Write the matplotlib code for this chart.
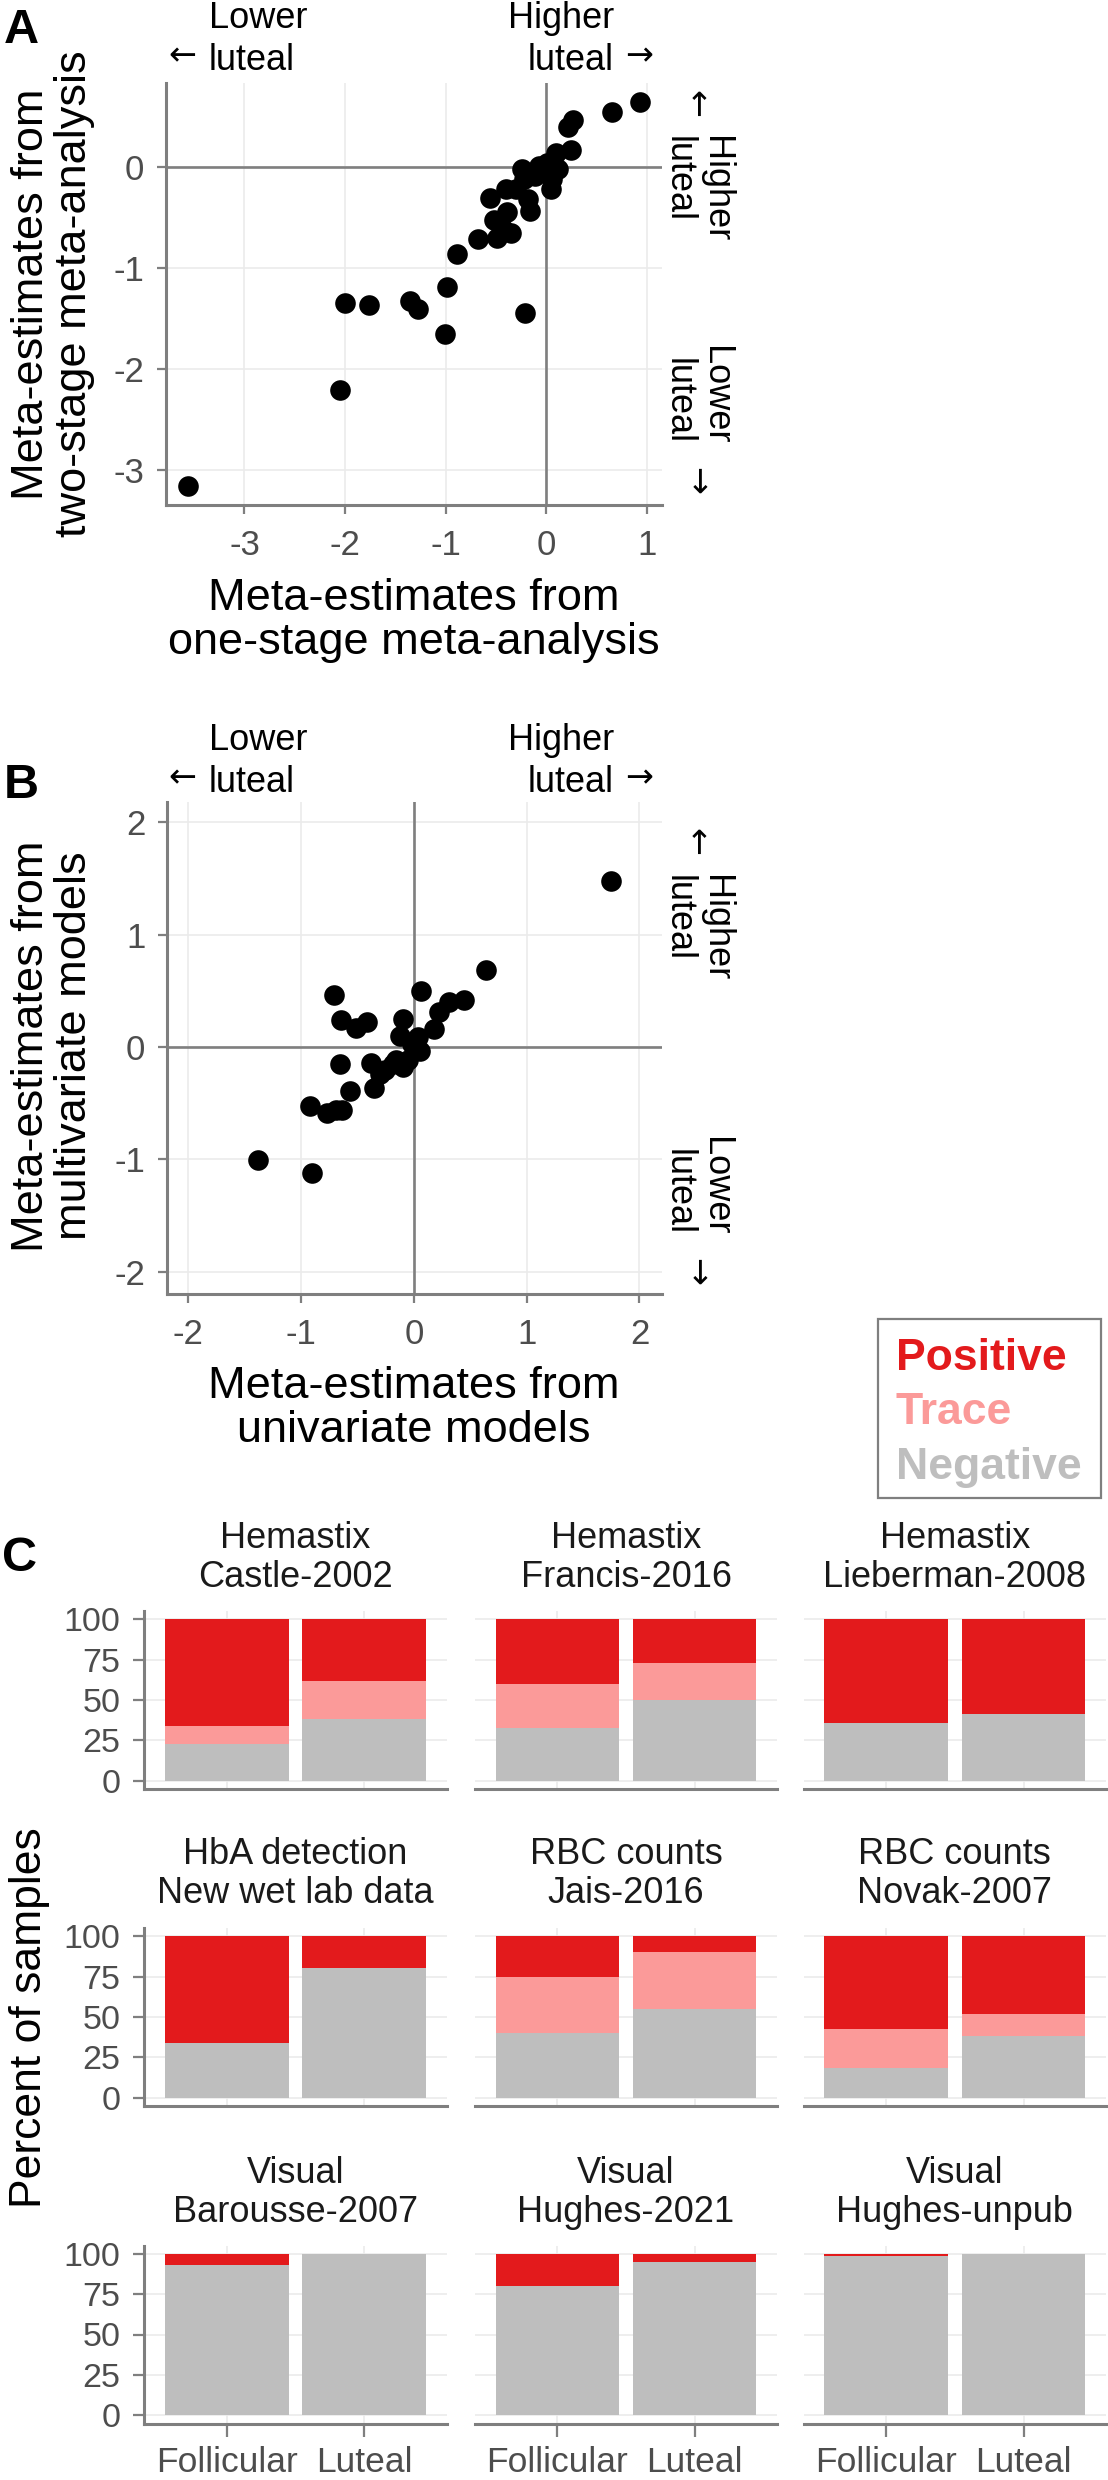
import numpy as np
import matplotlib
matplotlib.use("Agg")
import matplotlib.pyplot as plt
from matplotlib.patches import Rectangle

plt.rcParams["font.family"] = ["Liberation Sans", "DejaVu Sans"]

# --------------------------------------------------
# Data
# --------------------------------------------------
# Panel A: one-stage vs two-stage meta-estimates
a_one_stage = [-3.56, -2.05, -2.00, -1.76, -1.35, -1.28, -0.99, -1.01, -0.21,
               -0.89, -0.68, -0.56, -0.52, -0.49, -0.43, -0.35, -0.40, -0.39,
               -0.30, -0.24, -0.22, -0.18, -0.16, -0.11, -0.07, 0.01, 0.05,
               0.06, 0.10, 0.12, 0.25, 0.22, 0.27, 0.65, 0.93]
a_two_stage = [-3.16, -2.21, -1.35, -1.37, -1.33, -1.41, -1.19, -1.66, -1.45,
               -0.86, -0.72, -0.31, -0.53, -0.71, -0.62, -0.66, -0.22, -0.45,
               -0.22, -0.02, -0.12, -0.32, -0.44, -0.09, 0.01, 0.04, -0.22,
               -0.12, 0.14, -0.02, 0.17, 0.39, 0.46, 0.54, 0.64]

# Panel B: univariate vs multivariate meta-estimates
b_univariate = [-1.38, -0.90, -0.92, -0.77, -0.69, -0.64, -0.57, -0.66, -0.71,
                -0.65, -0.51, -0.42, -0.38, -0.35, -0.30, -0.26, -0.19, -0.16,
                -0.10, -0.05, -0.12, -0.10, -0.02, 0.04, 0.05, 0.06, 0.18,
                0.22, 0.31, 0.44, 0.64, 1.75]
b_multivariate = [-1.01, -1.12, -0.53, -0.59, -0.56, -0.56, -0.39, -0.15, 0.46,
                  0.24, 0.17, 0.22, -0.14, -0.37, -0.24, -0.21, -0.15, -0.12,
                  -0.18, -0.12, 0.10, 0.25, 0.03, 0.09, -0.04, 0.50, 0.16,
                  0.31, 0.40, 0.42, 0.68, 1.48]

# Panel C: percent of samples by phase
methods = ["Hemastix", "Hemastix", "Hemastix",
           "HbA detection", "RBC counts", "RBC counts",
           "Visual", "Visual", "Visual"]
studies = ["Castle-2002", "Francis-2016", "Lieberman-2008",
           "New wet lab data", "Jais-2016", "Novak-2007",
           "Barousse-2007", "Hughes-2021", "Hughes-unpub"]
phases = ["Follicular", "Luteal"]
negative = [[23, 38.5], [33, 50], [35.5, 41.5],
            [34, 80], [40, 55], [18.5, 38.5],
            [93, 100], [80, 94.5], [98.5, 100]]
trace = [[11, 23.5], [27, 23], [0, 0],
         [0, 0], [35, 35], [24, 13.5],
         [0, 0], [0, 0], [0, 0]]
positive = [[66, 38], [40, 27], [64.5, 58.5],
            [66, 20], [25, 10], [57.5, 48],
            [7, 0], [20, 5.5], [1.5, 0]]

# --------------------------------------------------
# Style
# --------------------------------------------------
POS = "#E31A1C"
TRC = "#FB9A99"
NEG = "#BEBEBE"
AXIS = "#7F7F7F"
GRID = "#EBEBEB"
TICK = "#4D4D4D"
ARROW_FONT = ["DejaVu Sans"]

W, H = 1108, 2480
fig = plt.figure(figsize=(W / 100, H / 100), dpi=100)


def px_axes(left, top, right, bottom):
    return fig.add_axes([left / W, 1 - bottom / H, (right - left) / W, (bottom - top) / H])


def px_text(x, y, s, **kw):
    return fig.text(x / W, 1 - y / H, s, **kw)


def scatter_panel(box, x, y, xlim, ylim, xticks, yticks):
    ax = px_axes(*box)
    ax.set_xlim(xlim)
    ax.set_ylim(ylim)
    ax.set_xticks(xticks)
    ax.set_yticks(yticks)
    ax.set_xticklabels([str(t) for t in xticks])
    ax.set_yticklabels([str(t) for t in yticks])
    ax.grid(True, color=GRID, lw=1.2)
    ax.set_axisbelow(True)
    ax.axhline(0, color=AXIS, lw=1.9, zorder=1.5)
    ax.axvline(0, color=AXIS, lw=1.9, zorder=1.5)
    ax.scatter(x, y, s=220, color="black", lw=0, zorder=3)
    for side in ["top", "right"]:
        ax.spines[side].set_visible(False)
    for side in ["left", "bottom"]:
        ax.spines[side].set_color(AXIS)
        ax.spines[side].set_linewidth(2.2)
    ax.tick_params(color=AXIS, length=6.5, width=1.6, labelsize=25,
                   labelcolor=TICK)
    ax.tick_params(axis="x", pad=11)
    ax.tick_params(axis="y", pad=9)
    return ax


def side_notes(base_y, up_arrow_y, higher_top, lower_bottom, down_arrow_y):
    # labels above the panel (base_y = baseline of the second line)
    px_text(209, base_y, "Lower\nluteal", ha="left", va="baseline",
            fontsize=26, linespacing=1.25, multialignment="left")
    px_text(182, base_y - 5, "\u2190", ha="center", va="baseline",
            fontsize=24, family=ARROW_FONT)
    px_text(614, base_y, "Higher\nluteal", ha="right", va="baseline",
            fontsize=26, linespacing=1.25, multialignment="right")
    px_text(639, base_y - 5, "\u2192", ha="center", va="baseline",
            fontsize=24, family=ARROW_FONT)
    # labels right of the panel
    px_text(696, up_arrow_y, "\u2190", ha="center", va="center",
            fontsize=24, rotation=-90, family=ARROW_FONT)
    px_text(697, higher_top, "Higher\nluteal", ha="center", va="top",
            fontsize=26, rotation=-90, linespacing=1.07, multialignment="left")
    px_text(697, lower_bottom, "Lower\nluteal", ha="center", va="bottom",
            fontsize=26, rotation=-90, linespacing=1.07, multialignment="right")
    px_text(696, down_arrow_y, "\u2192", ha="center", va="center",
            fontsize=24, rotation=-90, family=ARROW_FONT)


# --------------------------------------------------
# Panel A
# --------------------------------------------------
scatter_panel((166, 83, 662, 505), a_one_stage, a_two_stage,
              (-3.78, 1.15), (-3.35, 0.83), [-3, -2, -1, 0, 1], [-3, -2, -1, 0])
side_notes(70, 104, 136, 444, 481)
px_text(414, 654, "Meta-estimates from\none-stage meta-analysis", ha="center",
        va="baseline", fontsize=32.5, linespacing=1.1)
px_text(53, 294, "Meta-estimates from\ntwo-stage meta-analysis", ha="center",
        va="center", fontsize=32.5, rotation=90, linespacing=1.05)
px_text(4, 43, "A", fontsize=35, fontweight="bold", va="baseline")

# --------------------------------------------------
# Panel B
# --------------------------------------------------
scatter_panel((167, 802, 662, 1294), b_univariate, b_multivariate,
              (-2.19, 2.2), (-2.2, 2.18), [-2, -1, 0, 1, 2], [-2, -1, 0, 1, 2])
side_notes(792, 842, 875, 1235, 1272)
px_text(414, 1442, "Meta-estimates from\nunivariate models", ha="center",
        va="baseline", fontsize=32.5, linespacing=1.1)
px_text(53, 1046, "Meta-estimates from\nmultivariate models", ha="center",
        va="center", fontsize=32.5, rotation=90, linespacing=1.05)
px_text(4, 798, "B", fontsize=35, fontweight="bold", va="baseline")

# --------------------------------------------------
# Legend
# --------------------------------------------------
fig.patches.append(Rectangle((878 / W, 1 - 1498 / H), 223 / W, 179 / H,
                             transform=fig.transFigure, fill=False,
                             edgecolor=AXIS, lw=1.6))
for label, color, base in [("Positive", POS, 1370), ("Trace", TRC, 1424),
                           ("Negative", NEG, 1479)]:
    px_text(896, base, label, color=color, fontsize=32, fontweight="bold",
            va="baseline")

# --------------------------------------------------
# Panel C
# --------------------------------------------------
col_edges = [(144, 447), (475, 777), (803.5, 1106)]
row_tops = [1611, 1928, 2245.5]
row_h = 178
strip_base = [1587, 1903, 2222]
xpos = np.arange(1, len(phases) + 1)

for i in range(len(studies)):
    r, c = divmod(i, 3)
    left, right = col_edges[c]
    ax = px_axes(left, row_tops[r], right, row_tops[r] + row_h)
    neg = np.array(negative[i])
    trc = np.array(trace[i])
    pos = np.array(positive[i])
    ax.bar(xpos, neg, width=0.9, color=NEG, zorder=2)
    ax.bar(xpos, trc, width=0.9, bottom=neg, color=TRC, zorder=2)
    ax.bar(xpos, pos, width=0.9, bottom=neg + trc, color=POS, zorder=2)
    ax.set_xlim(0.4, 2.6)
    ax.set_ylim(-5, 105)
    ax.set_xticks(xpos)
    ax.set_yticks([0, 25, 50, 75, 100])
    ax.grid(True, color=GRID, lw=1.2, zorder=0)
    ax.set_axisbelow(True)
    for side in ["top", "right"]:
        ax.spines[side].set_visible(False)
    ax.spines["bottom"].set_color(AXIS)
    ax.spines["bottom"].set_linewidth(2.2)
    ax.spines["left"].set_color(AXIS)
    ax.spines["left"].set_linewidth(2.2)
    ax.tick_params(axis="y", color=AXIS, length=8, width=1.6, labelsize=24.5,
                   labelcolor=TICK, pad=9)
    ax.tick_params(axis="x", color=AXIS, length=9.5, width=1.6, labelsize=25.5,
                   labelcolor=TICK, pad=7)
    if c > 0:
        ax.spines["left"].set_visible(False)
        ax.tick_params(axis="y", length=0, labelleft=False)
    if r < 2:
        ax.tick_params(axis="x", length=0, labelbottom=False)
    else:
        ax.set_xticklabels(phases)
    px_text((left + right) / 2, strip_base[r], methods[i] + "\n" + studies[i],
            ha="center", va="baseline", fontsize=26, color="#1A1A1A",
            linespacing=1.13)

px_text(30, 2018, "Percent of samples", ha="center", va="center", fontsize=32,
        rotation=90)
px_text(2, 1571, "C", fontsize=35, fontweight="bold", va="baseline")

fig.savefig("out.png", dpi=100, facecolor="white")
